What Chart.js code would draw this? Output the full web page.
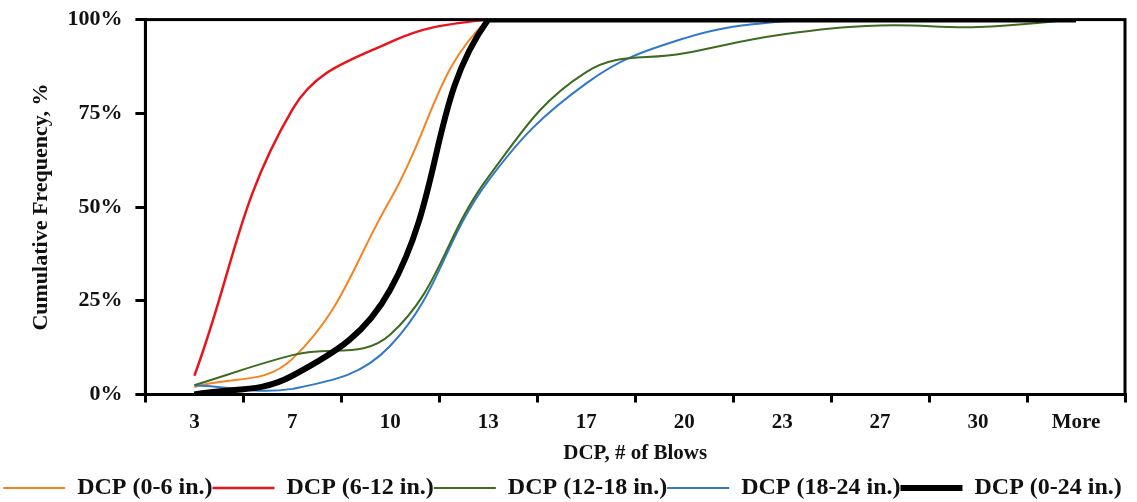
<!DOCTYPE html>
<html>
<head>
<meta charset="utf-8">
<script src="https://cdn.jsdelivr.net/npm/chart.js@4"></script>
<style>
  html, body { margin: 0; padding: 0; background: #fff; }
  #wrap { width: 1137px; height: 502px; overflow: hidden; }
</style>
</head>
<body>
<div id="wrap"><canvas id="chart" width="1137" height="502"></canvas></div>
<script>
const categories = ['3', '7', '10', '13', '17', '20', '23', '27', '30', 'More'];
const yTicks = [0, 25, 50, 75, 100];

const dcp0_6 = [2, 9.5, 52, 100, 100, 100, 100, 100, 100, 100];
const dcp6_12 = [5, 76, 94, 100, 100, 100, 100, 100, 100, 100];
const dcp12_18 = [2.5, 10.5, 16, 58, 86, 91, 96, 98.4, 98, 100];
const dcp18_24 = [2.5, 1.5, 13, 57, 83, 95, 99.5, 100, 100, 100];
const dcp0_24 = [0, 5, 28, 100, 100, 100, 100, 100, 100, 100];

const serif = '"Liberation Serif", "Times New Roman", serif';

// frame round the plot area
const framePlugin = {
  id: 'frame',
  afterDatasetsDraw(chart) {
    const { ctx, chartArea: a } = chart;
    ctx.save();
    ctx.strokeStyle = '#000';
    ctx.lineWidth = 3;
    ctx.strokeRect(a.left, a.top, a.right - a.left, a.bottom - a.top);
    ctx.restore();
  }
};

function ds(label, data, color, width, order) {
  return {
    label, data, borderColor: color, backgroundColor: color,
    borderWidth: width, pointRadius: 0, tension: 0.4, order,
    pointStyle: 'line', fill: false,
  };
}

new Chart(document.getElementById('chart'), {
  type: 'line',
  data: {
    labels: categories,
    datasets: [
      ds('DCP (0-6 in.)', dcp0_6, '#f5831f', 2, 4),
      ds('DCP (6-12 in.)', dcp6_12, '#e8141b', 2.5, 3),
      ds('DCP (12-18 in.)', dcp12_18, '#3d6b21', 2, 1),
      ds('DCP (18-24 in.)', dcp18_24, '#3079c9', 2, 2),
      ds('DCP (0-24 in.)', dcp0_24, '#000000', 6, 0),
    ],
  },
  options: {
    responsive: false,
    animation: false,
    devicePixelRatio: 1,
    layout: { padding: { left: 0, right: 12, top: 0, bottom: -8 } },
    plugins: {
      tooltip: { enabled: false },
      legend: {
        position: 'bottom',
        labels: {
          usePointStyle: true,
          pointStyleWidth: 62,
          boxHeight: 6,
          padding: 0,
          color: '#111',
          font: { family: serif, size: 24, weight: 'bold' },
          sort: (a, b) => a.datasetIndex - b.datasetIndex,
        },
      },
    },
    scales: {
      x: {
        offset: true,
        grid: { offset: true, drawOnChartArea: false, drawTicks: true, tickLength: 8, color: '#000', lineWidth: 3 },
        border: { display: true, color: '#000', width: 3 },
        ticks: { color: '#111', padding: 10, font: { family: serif, size: 21, weight: 'bold', lineHeight: 1 } },
        title: { display: true, text: 'DCP, # of Blows', color: '#111', padding: { top: 0, bottom: 11.5 }, font: { family: serif, size: 21, weight: 'bold', lineHeight: 1 } },
      },
      y: {
        min: 0, max: 100,
        afterBuildTicks(axis) { axis.ticks = yTicks.map(v => ({ value: v })); },
        grid: { drawOnChartArea: false, drawTicks: true, tickLength: 10, color: '#000', lineWidth: 3 },
        border: { display: true, color: '#000', width: 3 },
        ticks: { color: '#111', padding: 13, font: { family: serif, size: 22, weight: 'bold', lineHeight: 0.6 }, callback: v => v + '%' },
        title: { display: true, text: 'Cumulative Frequency, %', color: '#111', padding: { top: 28, bottom: 0 }, font: { family: serif, size: 22, weight: 'bold' } },
      },
    },
  },
  plugins: [framePlugin],
});
</script>
</body>
</html>
